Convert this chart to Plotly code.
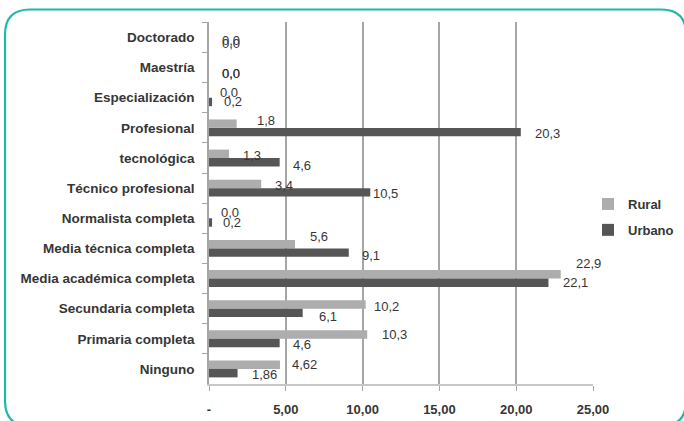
import plotly.graph_objects as go

# Nivel educativo (de arriba hacia abajo) y porcentajes por zona
categorias = [
    "Doctorado", "Maestría", "Especialización", "Profesional", "tecnológica",
    "Técnico profesional", "Normalista completa", "Media técnica completa",
    "Media académica completa", "Secundaria completa", "Primaria completa", "Ninguno",
]
rural = [0.0, 0.0, 0.0, 1.8, 1.3, 3.4, 0.0, 5.6, 22.9, 10.2, 10.3, 4.62]
urbano = [0.0, 0.0, 0.2, 20.3, 4.6, 10.5, 0.2, 9.1, 22.1, 6.1, 4.6, 1.86]

tick_vals = [0, 5, 10, 15, 20, 25]
tick_text = ["-", "5,00", "10,00", "15,00", "20,00", "25,00"]

# Desplazamiento (px) de cada etiqueta de dato respecto al extremo de su barra
off_rural = [(22, 6), (22, 6), (20, -5), (29, -7), (23, -3), (23, -3),
             (21, -6), (24, -12), (28, -15), (21, -2), (27, -4), (25, -4)]
off_urbano = [(22, 3), (22, 6), (21, 4), (27, 6), (22, 7), (15, 5),
              (20, 4), (22, 7), (27, 4), (25, 8), (22, 6), (27, 6)]

COLOR_RURAL = "#adadad"
COLOR_URBANO = "#565656"
TEXT = "#363636"
FONT = "'Liberation Sans', Arial, sans-serif"

fig = go.Figure()
fig.add_trace(go.Bar(y=categorias, x=rural, name="Rural", orientation="h",
                     marker=dict(color=COLOR_RURAL, line=dict(width=0)),
                     legendgroup="r"))
fig.add_trace(go.Bar(y=categorias, x=urbano, name="Urbano", orientation="h",
                     marker=dict(color=COLOR_URBANO, line=dict(width=0)),
                     legendgroup="u"))


def etiqueta(v):
    return str(v).replace(".", ",")


anns = []
for serie, offs in ((rural, off_rural), (urbano, off_urbano)):
    for cat, v, (dx, dy) in zip(categorias, serie, offs):
        anns.append(dict(x=v, y=cat, xref="x", yref="y", text=etiqueta(v),
                         showarrow=False, xanchor="center", yanchor="middle",
                         xshift=dx, yshift=-dy,
                         font=dict(family=FONT, size=13, color=TEXT)))

# Marco redondeado alrededor del gráfico (coordenadas en píxeles -> papel)
L, T, W, H = 209, 22, 384, 362


def px(x):
    return (x - L) / W


def py(y):
    return (T + H - y) / H


x0, x1, y0, y1, r = 5, 686, 9.5, 426, 25
path = (
    f"M {px(x0)},{py(y0 + r)} "
    f"Q {px(x0)},{py(y0)} {px(x0 + r)},{py(y0)} "
    f"L {px(x1 - r)},{py(y0)} "
    f"Q {px(x1)},{py(y0)} {px(x1)},{py(y0 + r)} "
    f"L {px(x1)},{py(y1 - r)} "
    f"Q {px(x1)},{py(y1)} {px(x1 - r)},{py(y1)} "
    f"L {px(x0 + r)},{py(y1)} "
    f"Q {px(x0)},{py(y1)} {px(x0)},{py(y1 - r)} Z"
)

fig.update_layout(
    width=684, height=421,
    margin=dict(l=L, r=684 - L - W, t=T, b=421 - T - H, autoexpand=False),
    paper_bgcolor="white", plot_bgcolor="white",
    barmode="group", bargap=0.44, bargroupgap=0,
    font=dict(family=FONT, color=TEXT),
    annotations=anns,
    shapes=[dict(type="path", path=path, xref="paper", yref="paper",
                 line=dict(color="#1fb8a8", width=2.2), layer="above")],
    legend=dict(x=(588 - L) / W, y=py(189), xanchor="left", yanchor="top",
                traceorder="grouped", tracegroupgap=6,
                font=dict(family=FONT, size=13, color=TEXT, weight="bold"),
                bgcolor="rgba(0,0,0,0)", itemwidth=30),
    xaxis=dict(range=[0, 25], tickvals=tick_vals, ticktext=tick_text,
               showgrid=True, gridcolor="#a6a6a6", gridwidth=1.5,
               zeroline=False, showline=True, linecolor="#c8c8c8", linewidth=1.5,
               ticks="outside", ticklen=5, tickcolor="#a6a6a6",
               ticklabelstandoff=8,
               tickfont=dict(family=FONT, size=13, color=TEXT, weight="bold"),
               fixedrange=True),
    yaxis=dict(autorange="reversed", type="category",
               showline=True, linecolor="#a6a6a6", linewidth=1.5,
               ticks="outside", ticklen=5, tickcolor="#a6a6a6",
               tickson="boundaries", ticklabelstandoff=10,
               tickfont=dict(family=FONT, size=13.5, color=TEXT, weight="bold"),
               showgrid=False, fixedrange=True),
)

fig.write_html("out.html")
